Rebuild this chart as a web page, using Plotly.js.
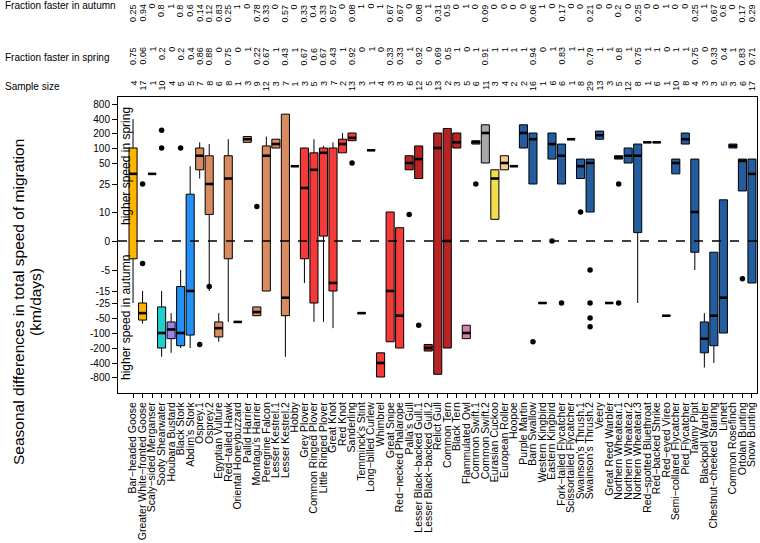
<!DOCTYPE html>
<html>
<head>
<meta charset="utf-8">
<script src="https://cdn.plot.ly/plotly-3.0.1.min.js"></script>
<style>html,body{margin:0;padding:0;background:#fff}#chart{width:760px;height:543px}</style>
</head>
<body>
<div id="chart"></div>
<script>
const species = ["Bar\u2212headed Goose","Greater White\u2212fronted Goose","Scaly\u2212sided Merganser","Sooty Shearwater","Houbara Bustard","Black Stork","Abdim\u2019s Stork","Osprey.1","Osprey.2","Egyptian Vulture","Red\u2212tailed Hawk","Oriental Honeybuzzard","Pallid Harrier","Montagu\u2019s Harrier","Peregrine Falcon","Lesser Kestrel.1","Lesser Kestrel.2","Hobby","Grey Plover","Common Ringed Plover","Little Ringed Plover","Great Knot","Red Knot","Sanderling","Temminck\u2019s Stint","Long\u2212billed Curlew","Whimbrel","Great Snipe","Red\u2212necked Phalarope","Palla\u2019s Gull","Lesser Black\u2212backed Gull.1","Lesser Black\u2212backed Gull.2","Relict Gull","Common Tern","Black Tern","Flammulated Owl","Common Swift.1","Common Swift.2","Eurasian Cuckoo","European Roller","Hoopoe","Purple Martin","Barn Swallow","Western Kingbird","Eastern Kingbird","Fork\u2212tailed Flycatcher","Scissortailed Flycatcher","Swainson\u2019s Thrush.1","Swainson\u2019s Thrush.2","Veery","Great Reed Warbler","Northern Wheatear.1","Northern Wheatear.2","Northern Wheatear.3","Red\u2212spotted Bluethroat","Red\u2212backed Shrike","Red\u2212eyed Vireo","Semi\u2212collared Flycatcher","Pied Flycatcher","Tawny Pipit","Blackpoll Warbler","Chestnut\u2212cheeked Starling","Linnet","Common Rosefinch","Ortolan Bunting","Snow Bunting"];

const fracAutumn = ["0.25","0.94","0","0.8","1","0.8","0.6","0.14","0.12","0.83","0.25","1","0","0.78","0.33","0","0.57","0","0.33","0.4","0.33","0.57","0","0.08","1","0","1","0.67","0.67","0","0.08","1","0.31","0.5","0","1","0","0.09","0","0","0","0","0.06","1","0","0.17","0","0","0.21","0","0","0.2","0","0.25","0","0","1","0","0","0.25","1","0.67","0.6","0","0.17","0.29"];
const fracSpring = ["0.75","0.06","1","0.2","0","0.2","0.4","0.86","0.88","0","0.75","0","1","0.22","0.67","1","0.43","1","0.67","0.6","0.67","0.43","1","0.92","0","1","0","0.33","0.33","1","0.92","0","0.69","0.5","1","0","1","0.91","1","1","1","1","0.94","0","1","0.83","1","1","0.79","1","1","0.8","1","0.75","1","1","0","1","1","0.75","0","0.33","0.4","1","0.83","0.71"];
const sampleSize = [4,17,1,10,4,5,5,7,8,6,8,1,3,9,12,3,7,1,3,5,3,7,2,13,3,1,4,3,3,6,12,5,13,2,3,5,6,11,3,4,2,2,16,1,6,6,1,8,29,13,3,5,12,8,1,6,1,10,8,4,3,3,5,3,6,17];

// group of each species (colour key)
const group = ["goose","goose","single","shearwater","bustard","stork","stork","raptor","raptor","raptor","raptor","raptor","raptor","raptor","raptor","raptor","raptor","raptor","wader","wader","wader","wader","wader","wader","wader","wader","wader","wader","wader","gull","gull","gull","gull","gull","gull","owl","swift","swift","cuckoo","roller","passerine","passerine","passerine","passerine","passerine","passerine","passerine","passerine","passerine","passerine","passerine","passerine","passerine","passerine","passerine","passerine","passerine","passerine","passerine","passerine","passerine","passerine","passerine","passerine","passerine","passerine"];

// seasonal difference in speed (km/day): whisker low, Q1, median, Q3, whisker high
const whiskerLow  = [-25,-65,35,-300,-250,-200,-200,30,-15,-150,-60,-60,130,-45,-15,100,-300,45,-10,-60,-60,-80,80,140,-40,90,-800,-150,-200,40,30,-230,-700,-200,100,-130,120,50,5,40,45,100,25,-25,60,25,150,30,10,150,-25,60,50,-25,130,130,-45,35,120,-5,-500,-400,-60,100,20,-10];
const q1          = [-2,-55,35,-200,-130,-180,-110,40,8,-120,-2,-60,130,-45,-15,100,-45,45,-2,-25,0.5,-15,80,140,-40,90,-800,-150,-200,40,30,-230,-700,-200,100,-130,120,50,5,40,45,100,25,-25,60,25,150,30,10,150,-25,60,50,1,130,130,-45,35,120,-1,-250,-180,-100,100,20,-10];
const median      = [35,-40,35,-100,-85,-100,-15,70,25,-80,30,-60,150,-38,70,120,-20,45,22,40,80,-10,120,160,-40,90,-400,-15,-45,50,60,-200,100,0,130,-100,130,200,30,50,45,200,150,-25,120,70,150,45,50,180,-25,65,70,70,130,130,-45,50,150,10,-130,-45,-20,110,55,35];
const q3          = [100,-25,35,-30,-60,-12,18,100,70,-60,70,-60,170,-30,110,150,500,45,100,80,100,100,150,200,-40,90,-250,10,2,70,110,-170,200,250,200,-70,140,300,40,70,45,300,200,-25,200,120,150,60,60,220,-25,70,100,120,130,130,-45,60,200,60,-60,-1,15,120,60,60];
const whiskerHigh = [400,-15,35,-15,-40,-5,45,130,120,-40,150,-60,170,-30,170,150,500,45,100,150,110,130,200,200,-40,90,-250,10,2,70,110,-170,200,250,200,-70,140,300,40,70,45,300,200,-25,200,120,150,60,60,220,-25,70,100,120,130,130,-45,60,200,60,-40,-1,15,120,60,60];

// individual outliers: species index (1-based) and value
const outlierSpecies = [2,2,4,4,6,8,9,14,24,30,31,37,43,45,46,48,49,49,49,49,52,52,65];
const outlierValue   = [25,-3,230,100,100,-170,-12,12,50,8,-70,25,-150,0,-25,10,-5,-25,-50,-75,25,-25,-8];

const yTickValues = [800,400,200,100,50,25,10,0,-5,-15,-25,-50,-100,-200,-400,-800];

// ---- axis scale (symmetric pseudo-log as in the original) ----
const knotsPos = [[0,0],[10,29],[25,57],[50,78],[100,93],[200,108],[400,122],[800,137]];
const knotsNeg = [[0,0],[5,29],[15,50],[25,62],[50,77],[100,92],[200,107],[400,122],[800,136]];
function scaleY(v){
  const k = v >= 0 ? knotsPos : knotsNeg;
  const a = Math.abs(v);
  const L = x => Math.log(1 + x);
  let t;
  if (a >= k[k.length-1][0]) {
    const p = k[k.length-2], q = k[k.length-1];
    t = q[1] + (L(a) - L(q[0])) * (q[1]-p[1])/(L(q[0])-L(p[0]));
  } else {
    for (let i = 1; i < k.length; i++) {
      if (a <= k[i][0]) {
        const p = k[i-1], q = k[i];
        t = p[1] + (L(a)-L(p[0]))*(q[1]-p[1])/(L(q[0])-L(p[0]));
        break;
      }
    }
  }
  return v >= 0 ? t : -t;
}

const groupColors = {goose:"#FFB400", single:"#FFB400", shearwater:"#1FCFCF", bustard:"#9B84E8", stork:"#2390F5", raptor:"#D98B5F", wader:"#F53A3A", gull:"#B82424", owl:"#D37FB3", swift:"#A8A8A8", cuckoo:"#F2DD4C", roller:"#F9C990", passerine:"#235DA0"};

const xs = species.map((s,i)=>i+1);
const traces = [];
Object.keys(groupColors).forEach(g=>{
  const idx = xs.filter(i=>group[i-1]===g);
  if(!idx.length) return;
  traces.push({
    type:"box", x: idx,
    q1: idx.map(i=>scaleY(q1[i-1])),
    median: idx.map(i=>scaleY(median[i-1])),
    q3: idx.map(i=>scaleY(q3[i-1])),
    lowerfence: idx.map(i=>scaleY(whiskerLow[i-1])),
    upperfence: idx.map(i=>scaleY(whiskerHigh[i-1])),
    fillcolor: groupColors[g],
    line:{color:"#000", width:1},
    whiskerwidth:0, width:0.85, boxpoints:false, hoverinfo:"skip", showlegend:false
  });
});
// thick median bars (R style)
const mx=[], my=[];
xs.forEach(i=>{ mx.push(i-0.425,i+0.425,null); const m=scaleY(median[i-1]); my.push(m,m,null); });
traces.push({type:"scatter",mode:"lines",x:mx,y:my,line:{color:"#000",width:2.6},hoverinfo:"skip",showlegend:false});
traces.push({type:"scatter",mode:"markers",x:outlierSpecies,y:outlierValue.map(scaleY),marker:{color:"#000",size:5.5},hoverinfo:"skip",showlegend:false});

const PLOT_TOP=97, PLOT_BOTTOM=393, H=543, W=760, L=118, R=757;
const py = p => (PLOT_BOTTOM - p)/(PLOT_BOTTOM-PLOT_TOP);
const px = p => (p - L)/(R-L);
const ann = [];
const f9 = {family:"Liberation Sans, Arial, sans-serif", size:9, color:"#000"};
xs.forEach(i=>{
  ann.push({x:i, xref:"x", y:py(2), yref:"paper", text:fracAutumn[i-1], textangle:-90, showarrow:false, xanchor:"center", yanchor:"top", font:f9});
  ann.push({x:i, xref:"x", y:py(45), yref:"paper", text:fracSpring[i-1], textangle:-90, showarrow:false, xanchor:"center", yanchor:"top", font:f9});
  ann.push({x:i, xref:"x", y:py(79), yref:"paper", text:String(sampleSize[i-1]), textangle:-90, showarrow:false, xanchor:"center", yanchor:"top", font:f9});
});
const f10 = {family:"Liberation Sans, Arial, sans-serif", size:10, color:"#000"};
[["Fraction faster in autumn",5],["Fraction faster in spring",58],["Sample size",86]].forEach(([t,y])=>{
  ann.push({x:px(3), xref:"paper", y:py(y), yref:"paper", text:t, showarrow:false, xanchor:"left", yanchor:"middle", font:f10});
});
const f13 = {family:"Liberation Sans, Arial, sans-serif", size:15.5, color:"#000"};
ann.push({x:px(18), xref:"paper", y:py(302), yref:"paper", text:"Seasonal differences in total speed of migration", textangle:-90, showarrow:false, xanchor:"center", yanchor:"middle", font:f13});
ann.push({x:px(35), xref:"paper", y:py(302), yref:"paper", text:"(km/days)", textangle:-90, showarrow:false, xanchor:"center", yanchor:"middle", font:f13});
const f11 = {family:"Liberation Sans, Arial, sans-serif", size:12, color:"#000"};
ann.push({x:px(126), xref:"paper", y:py(166), yref:"paper", text:"higher speed in spring", textangle:-90, showarrow:false, xanchor:"center", yanchor:"middle", font:f11});
ann.push({x:px(126), xref:"paper", y:py(318), yref:"paper", text:"higher speed in autumn", textangle:-90, showarrow:false, xanchor:"center", yanchor:"middle", font:f11});

const layout = {
  width:W, height:H, margin:{l:L, r:W-R, t:PLOT_TOP, b:H-PLOT_BOTTOM, pad:0},
  paper_bgcolor:"#fff", plot_bgcolor:"#fff",
  font:{family:"Liberation Sans, Arial, sans-serif", color:"#000"},
  xaxis:{range:[-0.58,66.53], tickmode:"array", tickvals:xs, ticktext:species, tickangle:-90,
         ticks:"outside", ticklen:4, tickcolor:"#000", tickfont:{size:10.5, color:"#000"},
         showgrid:false, zeroline:false, showline:true, linecolor:"#000", linewidth:1, mirror:true},
  yaxis:{range:[-152,144], tickmode:"array", tickvals:yTickValues.map(scaleY), ticktext:yTickValues.map(String),
         ticks:"outside", ticklen:5, tickcolor:"#000", tickfont:{size:10, color:"#000"},
         showgrid:false, zeroline:false, showline:true, linecolor:"#000", linewidth:1, mirror:true},
  shapes:[{type:"line", xref:"paper", x0:0, x1:1, yref:"y", y0:scaleY(0), y1:scaleY(0), line:{color:"#000", width:1.6, dash:"dash"}}],
  annotations: ann
};
Plotly.newPlot("chart", traces, layout, {staticPlot:true});
</script>
</body>
</html>
